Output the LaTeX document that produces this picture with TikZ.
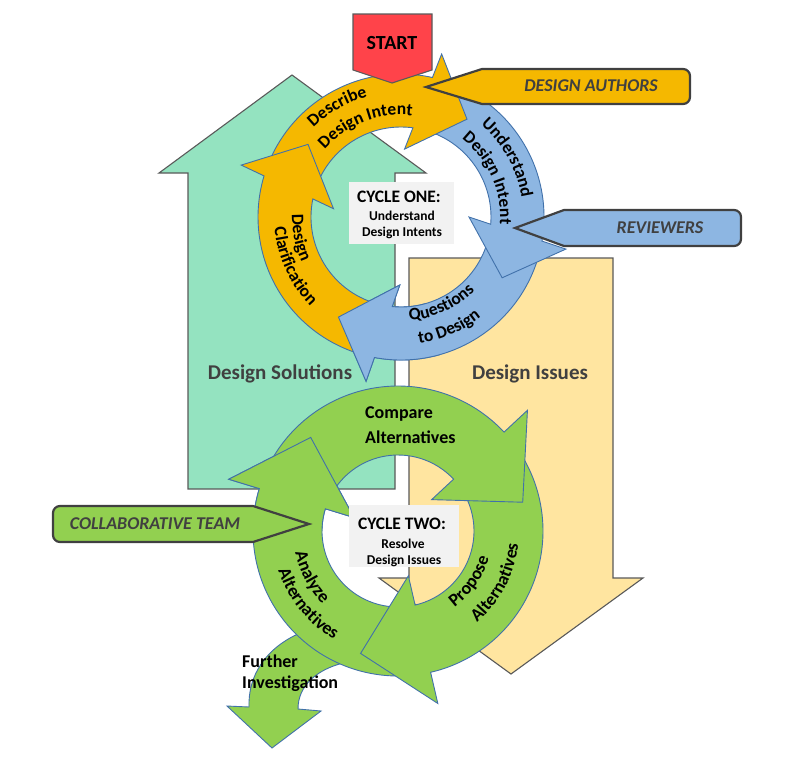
\documentclass[tikz,border=0pt]{standalone}
\usepackage{fontspec}
\setmainfont{Carlito}
\usetikzlibrary{decorations.text}
\definecolor{mint}{RGB}{148,227,192}
\definecolor{pale}{RGB}{255,229,160}
\definecolor{gold}{RGB}{245,184,0}
\definecolor{sky}{RGB}{141,182,226}
\definecolor{lime}{RGB}{146,208,80}
\definecolor{ringline}{RGB}{65,113,170}
\definecolor{startred}{RGB}{255,67,74}
\definecolor{darkline}{RGB}{64,64,64}
\definecolor{bigline}{RGB}{90,90,90}
\definecolor{boxgray}{RGB}{242,242,242}
\definecolor{txtgray}{RGB}{64,64,64}
\newcommand\ringfontA{\fontsize{17.5}{17.5}\selectfont\bfseries}
\newcommand\ringfontB{\fontsize{18}{18}\selectfont\bfseries}
% cycle one arrow: fill, tail angle, base angle
\newcommand\cycOneArr[3]{%
  \path[ringarrow, fill=#1] (#2:143) arc[start angle=#2, end angle={#3-9.7}, radius=143]
    -- ({#3-11}:168) -- ({#3-31}:118) -- (#3:68) -- ({#3-4.6}:90)
    arc[start angle={#3-4.6}, end angle=#2, radius=90] -- cycle;}
% cycle two arrow: tail angle, base angle
\newcommand\cycTwoArr[2]{%
  \path[ringarrow, fill=lime] (#1:145) arc[start angle=#1, end angle=#2, radius=145]
    -- (#2:177) -- ({#2-30}:128) -- (#2:46) -- (#2:76)
    arc[start angle=#2, end angle=#1, radius=76] -- cycle;}
% curved label: radius, from, to, text, font
\newcommand\ringlabel[5]{%
  \path[decorate, decoration={text along path, text={|#5|#4}, text align=center}]
    (#2:#1) arc[start angle=#2, end angle=#3, radius=#1];}
\begin{document}
\begin{tikzpicture}[x=1pt,y=1pt,
  bigarrow/.style={draw=bigline, line width=1.1pt, line join=miter},
  ringarrow/.style={draw=ringline, line width=0.9pt, line join=miter, miter limit=20},
  callout/.style={draw=darkline, line width=2.2pt, line join=miter},
  calltext/.style={font=\fontsize{18}{20}\selectfont\bfseries\itshape, text=txtgray, inner sep=0pt},
  bigtext/.style={font=\fontsize{21}{24}\selectfont\bfseries, text=txtgray, inner sep=0pt},
  ringtext/.style={font=\ringfontB, text=black, inner sep=0pt},
  boxtitle/.style={font=\fontsize{17.5}{18}\selectfont\bfseries, inner sep=0pt},
  boxtext/.style={font=\fontsize{13.5}{14}\selectfont\bfseries, inner sep=0pt},
  labelbox/.style={fill=boxgray, inner sep=0pt}]
\useasboundingbox (0,0) rectangle (809,-766);
\fill[white] (0,0) rectangle (809,-766);

% big background arrows
\path[bigarrow, fill=mint] (188,-489) -- (188,-173) -- (159,-173) -- (292,-75) -- (426,-173) -- (395,-173) -- (395,-489) -- cycle;
\path[bigarrow, fill=pale] (409,-258) -- (613,-258) -- (613,-578) -- (643,-578) -- (511,-674) -- (379,-578) -- (409,-578) -- cycle;
\node[bigtext] (sol) at (280,-374) {Design Solutions};
\node[bigtext] (iss) at (530,-374) {Design Issues};

% cycle one
\begin{scope}[shift={(401,-217)}]
  \cycOneArr{sky}{-15}{-91}
  \cycOneArr{sky}{72}{0}
  \cycOneArr{gold}{158}{87}
  \cycOneArr{gold}{254}{173}
  \begin{scope}
    \clip (0,0) -- (-140:230) arc[start angle=-140, end angle=-74, radius=230] -- cycle;
    \cycOneArr{sky}{-15}{-91}
  \end{scope}
  \ringlabel{125}{165}{75}{Describe}{\ringfontA}
  \ringlabel{102}{171}{51}{Design Intent}{\ringfontA}
  \ringlabel{122}{79}{-21}{Understand}{\ringfontA}
  \ringlabel{99}{84}{-36}{Design Intent}{\ringfontA}
  \ringlabel{109}{151.6}{231.6}{Design}{\ringfontA}
  \ringlabel{127}{154.7}{254.7}{Clarification}{\ringfontA}
  \ringlabel{104}{-115}{-15}{Questions}{\ringfontA}
  \ringlabel{128}{-116.6}{-16.6}{to Design}{\ringfontA}
\end{scope}
\node[labelbox, minimum width=105pt, minimum height=62pt] (box1) at (401.5,-213) {};
\node[boxtitle] (c1t) at (399,-197) {CYCLE ONE:};
\node[boxtext] (c1a) at (402,-216) {Understand};
\node[boxtext] (c1b) at (402,-233) {Design Intents};

% start and role callouts
\path[bigarrow, fill=startred] (353,-14) -- (432,-14) -- (432,-70) -- (392,-83) -- (353,-70) -- cycle;
\node[font=\fontsize{20}{22}\selectfont\bfseries, inner sep=0pt] (start) at (392,-43) {START};
\path[callout, fill=gold] (426,-87) -- (482,-69) [rounded corners=7] -- (690,-69) -- (690,-104) [sharp corners] -- (482,-104) -- cycle;
\node[calltext] (authors) at (591,-86) {DESIGN AUTHORS};
\path[callout, fill=sky] (515,-228) -- (564,-210) [rounded corners=7] -- (741,-210) -- (741,-246) [sharp corners] -- (564,-246) -- cycle;
\node[calltext] (reviewers) at (660,-228) {REVIEWERS};

% further investigation
\path[ringarrow, fill=lime] (227,-706) -- (249,-707) .. controls (248,-675) and (266,-648) .. (300,-633) -- (322,-622) -- (352,-652) -- (343,-663) .. controls (316,-670) and (298,-686) .. (298,-709) -- (321,-711) -- (272,-748) -- cycle;

% cycle two
\begin{scope}[shift={(398,-531)}]
  \cycTwoArr{271}{163}
  \cycTwoArr{31}{-77}
  \cycTwoArr{151}{43}
  \begin{scope}
    \clip (0,0) -- (122:230) arc[start angle=122, end angle=180, radius=230] -- cycle;
    \cycTwoArr{271}{163}
  \end{scope}
  \ringlabel{105}{158}{258}{Analyze}{\ringfontB}
  \ringlabel{126}{168.8}{268.8}{Alternatives}{\ringfontB}
  \ringlabel{95}{-85}{15}{Propose}{\ringfontB}
  \ringlabel{121}{-77.7}{22.3}{Alternatives}{\ringfontB}
\end{scope}
\node[ringtext, anchor=west] (cmp1) at (365,-414) {Compare};
\node[ringtext, anchor=west] (cmp2) at (365,-437) {Alternatives};
\node[labelbox, minimum width=110pt, minimum height=62pt] (box2) at (404,-536) {};
\node[boxtitle] (c2t) at (402,-524) {CYCLE TWO:};
\node[boxtext] (c2a) at (403,-544) {Resolve};
\node[boxtext] (c2b) at (404,-561) {Design Issues};
\node[ringtext, anchor=base west] (fi1) at (242,-667) {Further};
\node[ringtext, anchor=base west] (fi2) at (242,-688) {Investigation};

\path[callout, fill=lime] (309,-524) -- (253,-542) [rounded corners=7] -- (53,-542) -- (53,-506) [sharp corners] -- (253,-506) -- cycle;
\node[calltext] (collab) at (155,-524) {COLLABORATIVE TEAM};
\end{tikzpicture}
\end{document}
